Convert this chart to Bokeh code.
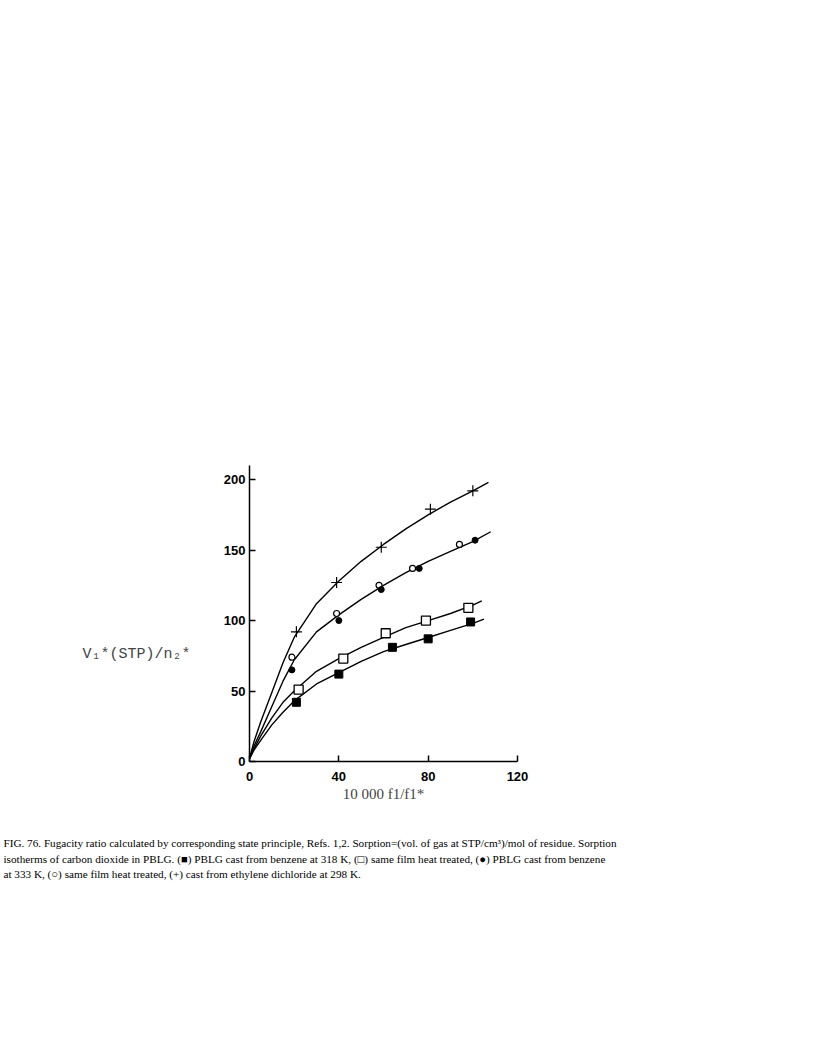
from bokeh.plotting import figure
from bokeh.models import Range1d, Title, LinearAxis
from bokeh.embed import file_html
from bokeh.resources import INLINE

# ---- data ----
x_ticks = [0, 40, 80, 120]
y_ticks = [0, 50, 100, 150, 200]

plus_x = [21, 39, 59, 81, 100]
plus_y = [92, 127, 152, 179, 192]
ocirc_x = [19, 39, 58, 73, 94]
ocirc_y = [74, 105, 125, 137, 154]
fcirc_x = [19, 40, 59, 76, 101]
fcirc_y = [65, 100, 122, 137, 157]
osq_x = [22, 42, 61, 79, 98]
osq_y = [51, 73, 91, 100, 109]
fsq_x = [21, 40, 64, 80, 99]
fsq_y = [42, 62, 81, 87, 99]

plus_cx = [0, 2, 5, 10, 15, 20, 30, 40, 50, 60, 70, 80, 90, 100, 107]
plus_cy = [2, 14, 28, 49, 70, 88, 112, 128, 142, 154, 165, 175, 184, 192, 198]
circ_cx = [0, 2, 5, 10, 15, 20, 30, 40, 50, 60, 70, 80, 90, 100, 108]
circ_cy = [2, 11, 21, 39, 57, 72, 92, 104, 115, 125, 134, 142, 149, 156, 163]
osq_cx = [0, 2, 5, 10, 15, 20, 30, 40, 50, 60, 70, 80, 90, 100, 104]
osq_cy = [2, 9, 18, 31, 42, 50, 64, 73, 81, 88, 95, 100, 105, 111, 114]
fsq_cx = [0, 2, 5, 10, 15, 20, 30, 40, 50, 60, 70, 80, 90, 100, 105]
fsq_cy = [2, 8, 15, 26, 35, 43, 55, 63, 71, 78, 83, 88, 93, 98, 101]

y_label = "V\u2081*(STP)/n\u2082*"
x_label = "10 000 f1/f1*"
caption = [
    "FIG. 76.  Fugacity ratio calculated by corresponding state principle, Refs. 1,2. Sorption=(vol. of gas at STP/cm\u00b3)/mol of residue. Sorption",
    "isotherms of carbon dioxide in PBLG. (\u25a0) PBLG cast from benzene at 318 K, (\u25a1) same film heat treated, (\u25cf) PBLG cast from benzene",
    "at 333 K, (\u25cb) same film heat treated, (+) cast from ethylene dichloride at 298 K.",
]

p = figure(frame_width=268, frame_height=296,
           min_border_left=249, min_border_right=281,
           min_border_top=465, min_border_bottom=279,
           x_range=Range1d(0, 120), y_range=Range1d(0, 210),
           output_backend="svg", toolbar_location=None,
           background_fill_color="white", border_fill_color="white")
p.outline_line_color = None
p.grid.visible = False

for ax in (p.xaxis[0], p.yaxis[0]):
    ax.major_tick_in = 6
    ax.major_tick_out = 0
    ax.minor_tick_in = 3
    ax.minor_tick_out = 0
    ax.axis_line_width = 1.5
    ax.major_tick_line_width = 1.5
    ax.axis_line_color = "black"
    ax.major_tick_line_color = "black"
    ax.minor_tick_line_color = "black"
    ax.major_label_text_font = "Liberation Sans"
    ax.major_label_text_font_style = "bold"
    ax.major_label_text_font_size = "13px"
    ax.major_label_text_color = "black"

p.xaxis.ticker = x_ticks
p.yaxis.ticker = y_ticks
p.xaxis.major_label_standoff = 10
p.yaxis.major_label_standoff = 4
p.xaxis.axis_label = x_label
p.xaxis.axis_label_text_font = "Liberation Serif"
p.xaxis.axis_label_text_font_style = "normal"
p.xaxis.axis_label_text_font_size = "15px"
p.xaxis.axis_label_standoff = 2

# extra left axis only carrying the horizontal y label (shifted down by leading lines)
p.extra_y_ranges = {"lab": Range1d(0, 210)}
lab_ax = LinearAxis(y_range_name="lab", ticker=[],
                    axis_line_color=None, major_tick_line_color=None,
                    minor_tick_line_color=None,
                    major_label_text_font_size="0px",
                    axis_label="\n\n\n\n" + y_label,
                    axis_label_orientation="horizontal",
                    axis_label_text_font="Liberation Mono",
                    axis_label_text_font_style="normal",
                    axis_label_text_font_size="15px",
                    axis_label_text_line_height=1.2,
                    axis_label_standoff=30)
p.add_layout(lab_ax, "left")

# curves
for cx, cy in ((plus_cx, plus_cy), (circ_cx, circ_cy), (osq_cx, osq_cy), (fsq_cx, fsq_cy)):
    p.line(cx, cy, line_color="black", line_width=1.4)

# markers
p.scatter(plus_x, plus_y, marker="cross", size=11, line_color="black", line_width=1.2)
p.scatter(ocirc_x, ocirc_y, marker="circle", size=6, line_color="black",
          fill_color="white", line_width=1.2)
p.scatter(fcirc_x, fcirc_y, marker="circle", size=6, line_color="black",
          fill_color="black")
p.scatter(osq_x, osq_y, marker="square", size=9, line_color="black",
          fill_color="white", line_width=1.3)
p.scatter(fsq_x, fsq_y, marker="square", size=8, line_color="black",
          fill_color="black")

# caption as one multi-line title below the plot
p.add_layout(Title(text="\n".join(caption), align="left", offset=-246,
                   text_font="Liberation Serif", text_font_size="11.2px",
                   text_font_style="normal", text_color="black",
                   text_line_height=1.33, standoff=60), "below")

open("out.html", "w").write(file_html(p, INLINE))
